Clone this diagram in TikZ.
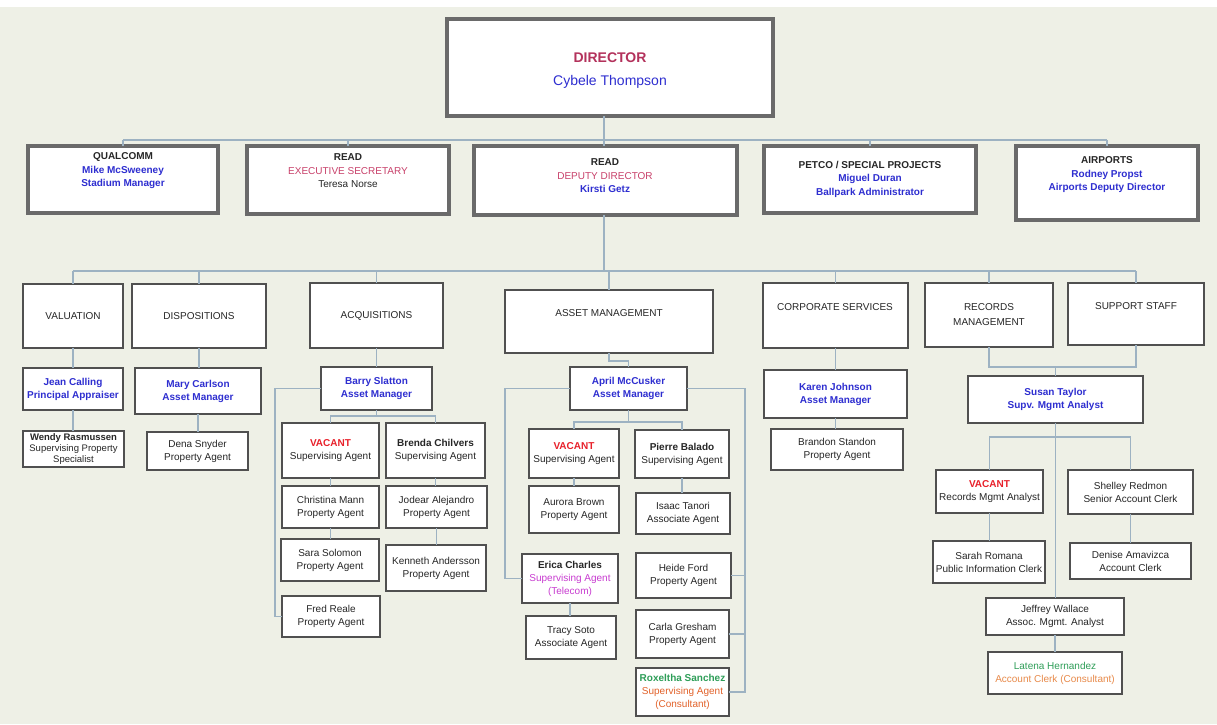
\documentclass[tikz,border=0pt]{standalone}
\usepackage{fontspec}
\setmainfont{Liberation Sans}
\usetikzlibrary{calc}
\definecolor{bgc}{HTML}{EEF0E6}
\definecolor{connc}{HTML}{9DB2C2}
\definecolor{bordc}{HTML}{505050}
\definecolor{bigbordc}{HTML}{6A6A6A}
\definecolor{nblue}{HTML}{2E2ED0}
\definecolor{dred}{HTML}{B3325C}
\definecolor{pred}{HTML}{C8406A}
\definecolor{vred}{HTML}{E8202A}
\definecolor{magc}{HTML}{C83CD0}
\definecolor{grnc}{HTML}{2E9E58}
\definecolor{orgc}{HTML}{E2622A}
\definecolor{org2c}{HTML}{E88A4A}
\definecolor{txtc}{HTML}{262626}
\tikzset{
  box/.style={draw=bordc, line width=1.6pt, fill=white, inner sep=0pt, outer sep=0pt,
    align=center, text=txtc, font=\fontsize{10}{13}\selectfont},
  bigbox/.style={draw=bigbordc, line width=3.5pt, fill=white, inner sep=0pt, outer sep=0pt},
  txt/.style={align=center, inner sep=0pt, text=txtc, font=\fontsize{10}{13.5}\selectfont},
  conn/.style={draw=connc, line width=1.2pt},
}
\newcommand\Bx[7][box]{\node[#1, anchor=north west, minimum width={(#5-#3)*1pt},
  minimum height={(#6-#4)*1pt}] (#2) at (#3,#4) {#7};}
\newcommand\nm[1]{{\bfseries\color{nblue}#1}}
\newcommand\vac{{\bfseries\color{vred}VACANT}}
\begin{document}
\begin{tikzpicture}[x=1pt,y=-1pt]
\useasboundingbox (0,0) rectangle (1217,724);
\fill[bgc] (0,0) rectangle (1217,724);
\fill[white] (0,0) rectangle (1217,7);

% ---------- Director ----------
\Bx[bigbox]{dir}{447}{19}{773}{116}{}
\node[txt, font=\fontsize{14}{23}\selectfont] (dirt) at (610,71)
  {{\bfseries\color{dred}DIRECTOR}\\{\color{nblue}Cybele Thompson}};

% ---------- Row 2 ----------
\Bx[bigbox]{qual}{28}{146}{218}{213}{}
\Bx[bigbox]{exec}{247}{146}{449}{214}{}
\Bx[bigbox]{read}{474}{146}{737}{215}{}
\Bx[bigbox]{petco}{764}{146}{976}{213}{}
\Bx[bigbox]{air}{1016}{146}{1198}{220}{}
\node[txt] (qualt) at (123,171) {\textbf{QUALCOMM}\\\nm{Mike McSweeney}\\\nm{Stadium Manager}};
\node[txt] (exect) at (348,171) {\textbf{READ}\\{\color{pred}EXECUTIVE SECRETARY}\\Teresa Norse};
\node[txt] (readt) at (605,176) {\textbf{READ}\\{\color{pred}DEPUTY DIRECTOR}\\\nm{Kirsti Getz}};
\node[txt] (petcot) at (870,179) {\textbf{PETCO / SPECIAL PROJECTS}\\\nm{Miguel Duran}\\\nm{Ballpark Administrator}};
\node[txt] (airt) at (1107,175) {\textbf{AIRPORTS}\\\nm{Rodney Propst}\\\nm{Airports Deputy Director}};

% ---------- Row 3: departments ----------
\Bx{val}{23}{284}{123}{348}{VALUATION}
\Bx{disp}{132}{284}{266}{348}{DISPOSITIONS}
\Bx{acq}{310}{283}{443}{348}{ACQUISITIONS}
\Bx{asset}{505}{290}{713}{353}{}
\Bx{corp}{763}{283}{908}{348}{}
\Bx[box, font=\fontsize{10}{15}\selectfont]{rec}{925}{283}{1053}{347}{RECORDS\\MANAGEMENT}
\Bx{sup}{1068}{283}{1204}{345}{}
\node[txt] (assett) at (609,313) {ASSET MANAGEMENT};
\node[txt] (corpt) at (835,307) {CORPORATE SERVICES};
\node[txt] (supt) at (1136,306) {SUPPORT STAFF};

% ---------- Row 4: managers ----------
\Bx{jean}{23}{368}{123}{410}{\nm{Jean Calling}\\\nm{Principal Appraiser}}
\Bx{mary}{135}{368}{261}{414}{\nm{Mary Carlson}\\\nm{Asset Manager}}
\Bx{barry}{321}{367}{432}{410}{\nm{Barry Slatton}\\\nm{Asset Manager}}
\Bx{april}{570}{367}{687}{410}{\nm{April McCusker}\\\nm{Asset Manager}}
\Bx{karen}{764}{370}{907}{418}{\nm{Karen Johnson}\\\nm{Asset Manager}}
\Bx{susan}{968}{376}{1143}{423}{\nm{Susan Taylor}\\\nm{Supv. Mgmt Analyst}}

% ---------- Row 5 ----------
\Bx[box, font=\fontsize{9.5}{11}\selectfont]{wendy}{23}{431}{124}{467}{\textbf{Wendy Rasmussen}\\Supervising Property\\Specialist}
\Bx{dena}{147}{432}{248}{470}{Dena Snyder\\Property Agent}
\Bx{vacA}{282}{423}{379}{478}{\vac\\Supervising Agent}
\Bx{brenda}{386}{423}{485}{478}{\textbf{Brenda Chilvers}\\Supervising Agent}
\Bx{vacB}{529}{429}{619}{478}{\vac\\Supervising Agent}
\Bx{pierre}{635}{430}{729}{478}{\textbf{Pierre Balado}\\Supervising Agent}
\Bx{brandon}{771}{429}{903}{470}{Brandon Standon\\Property Agent}
\Bx{vacC}{936}{470}{1043}{513}{\vac\\Records Mgmt Analyst}
\Bx{shelley}{1068}{470}{1193}{514}{Shelley Redmon\\Senior Account Clerk}

% ---------- Row 6 ----------
\Bx{christina}{282}{486}{379}{528}{Christina Mann\\Property Agent}
\Bx{jodear}{386}{486}{487}{528}{Jodear Alejandro\\Property Agent}
\Bx{aurora}{529}{486}{619}{533}{Aurora Brown\\Property Agent}
\Bx{isaac}{636}{493}{730}{534}{Isaac Tanori\\Associate Agent}
\Bx{sarah}{933}{541}{1045}{583}{Sarah Romana\\Public Information Clerk}
\Bx{denise}{1070}{543}{1191}{579}{Denise Amavizca\\Account Clerk}

% ---------- Row 7 ----------
\Bx{sara}{281}{539}{379}{581}{Sara Solomon\\Property Agent}
\Bx{kenneth}{386}{545}{486}{591}{Kenneth Andersson\\Property Agent}
\Bx{erica}{522}{554}{618}{603}{\textbf{Erica Charles}\\{\color{magc}Supervising Agent}\\{\color{magc}(Telecom)}}
\Bx{heide}{636}{553}{731}{598}{Heide Ford\\Property Agent}
\Bx{jeffrey}{986}{598}{1124}{635}{Jeffrey Wallace\\Assoc. Mgmt. Analyst}

% ---------- Row 8 ----------
\Bx{fred}{282}{596}{380}{637}{Fred Reale\\Property Agent}
\Bx{tracy}{526}{616}{616}{659}{Tracy Soto\\Associate Agent}
\Bx{carla}{636}{610}{729}{658}{Carla Gresham\\Property Agent}
\Bx{rox}{636}{668}{729}{716}{{\bfseries\color{grnc}Roxeltha Sanchez}\\{\color{orgc}Supervising Agent}\\{\color{orgc}(Consultant)}}
\Bx{latena}{988}{652}{1122}{694}{{\color{grnc}Latena Hernandez}\\{\color{org2c}Account Clerk (Consultant)}}

% ---------- Connectors ----------
\coordinate (b1) at (604,140);
\coordinate (b2) at (604,271);
\draw[conn] (b1 |- dir.south) -- (b1) -- (b1 |- read.north);
\draw[conn] (qual.north |- b1) -- (air.north |- b1);
\foreach \n in {qual,exec,petco,air} \draw[conn] (\n.north |- b1) -- (\n.north);
\draw[conn] (b2 |- read.south) -- (b2);
\draw[conn] (val.north |- b2) -- (sup.north |- b2);
\foreach \n in {val,disp,acq,asset,corp,rec,sup} \draw[conn] (\n.north |- b2) -- (\n.north);

% valuation / dispositions
\draw[conn] (val.south) -- (val.south |- jean.north);
\draw[conn] (jean.south) -- (jean.south |- wendy.north);
\draw[conn] (disp.south) -- (disp.south |- mary.north);
\draw[conn] (mary.south) -- (mary.south |- dena.north);

% acquisitions
\coordinate (acqj) at (376.5,416);
\draw[conn] (acq.south) -- (acq.south |- barry.north);
\draw[conn] (barry.south) -- (acqj);
\draw[conn] (vacA.north) |- (acqj) -| (brenda.north);
\draw[conn] (vacA.south) -- (vacA.south |- christina.north);
\draw[conn] (christina.south) -- (christina.south |- sara.north);
\draw[conn] (brenda.south) -- (brenda.south |- jodear.north);
\draw[conn] (jodear.south) -- (jodear.south |- kenneth.north);
\draw[conn] (barry.west) -| ([xshift=-7pt]fred.west) -- (fred.west);

% asset management
\coordinate (amj) at (628.5,361);
\coordinate (apj) at (628.5,422);
\coordinate (arx) at (745,0);
\draw[conn] (asset.south) |- (amj) -- (amj |- april.north);
\draw[conn] (april.south) -- (apj);
\draw[conn] (vacB.north) |- (apj) -| (pierre.north);
\draw[conn] (vacB.south) -- (vacB.south |- aurora.north);
\draw[conn] (pierre.south) -- (pierre.south |- isaac.north);
\draw[conn] (erica.south) -- (erica.south |- tracy.north);
\draw[conn] (april.west) -| ([xshift=-17pt]erica.west) -- (erica.west);
\draw[conn] (april.east) -| (rox.east -| arx) -- (rox.east);
\draw[conn] (heide.east) -- (heide.east -| arx);
\draw[conn] (carla.east) -- (carla.east -| arx);

% corporate services
\draw[conn] (corp.south) -- (corp.south |- karen.north);
\draw[conn] (karen.south) -- (karen.south |- brandon.north);

% records / support
\coordinate (rj) at (1055.5,367);
\coordinate (sj) at (1055.5,437);
\draw[conn] (rec.south) |- (rj) -| (sup.south);
\draw[conn] (rj) -- (rj |- susan.north);
\draw[conn] (vacC.north) |- (sj) -| (shelley.north);
\draw[conn] (susan.south) -- (susan.south |- jeffrey.north);
\draw[conn] (vacC.south) -- (vacC.south |- sarah.north);
\draw[conn] (shelley.south) -- (shelley.south |- denise.north);
\draw[conn] (jeffrey.south) -- (jeffrey.south |- latena.north);
\end{tikzpicture}
\end{document}
